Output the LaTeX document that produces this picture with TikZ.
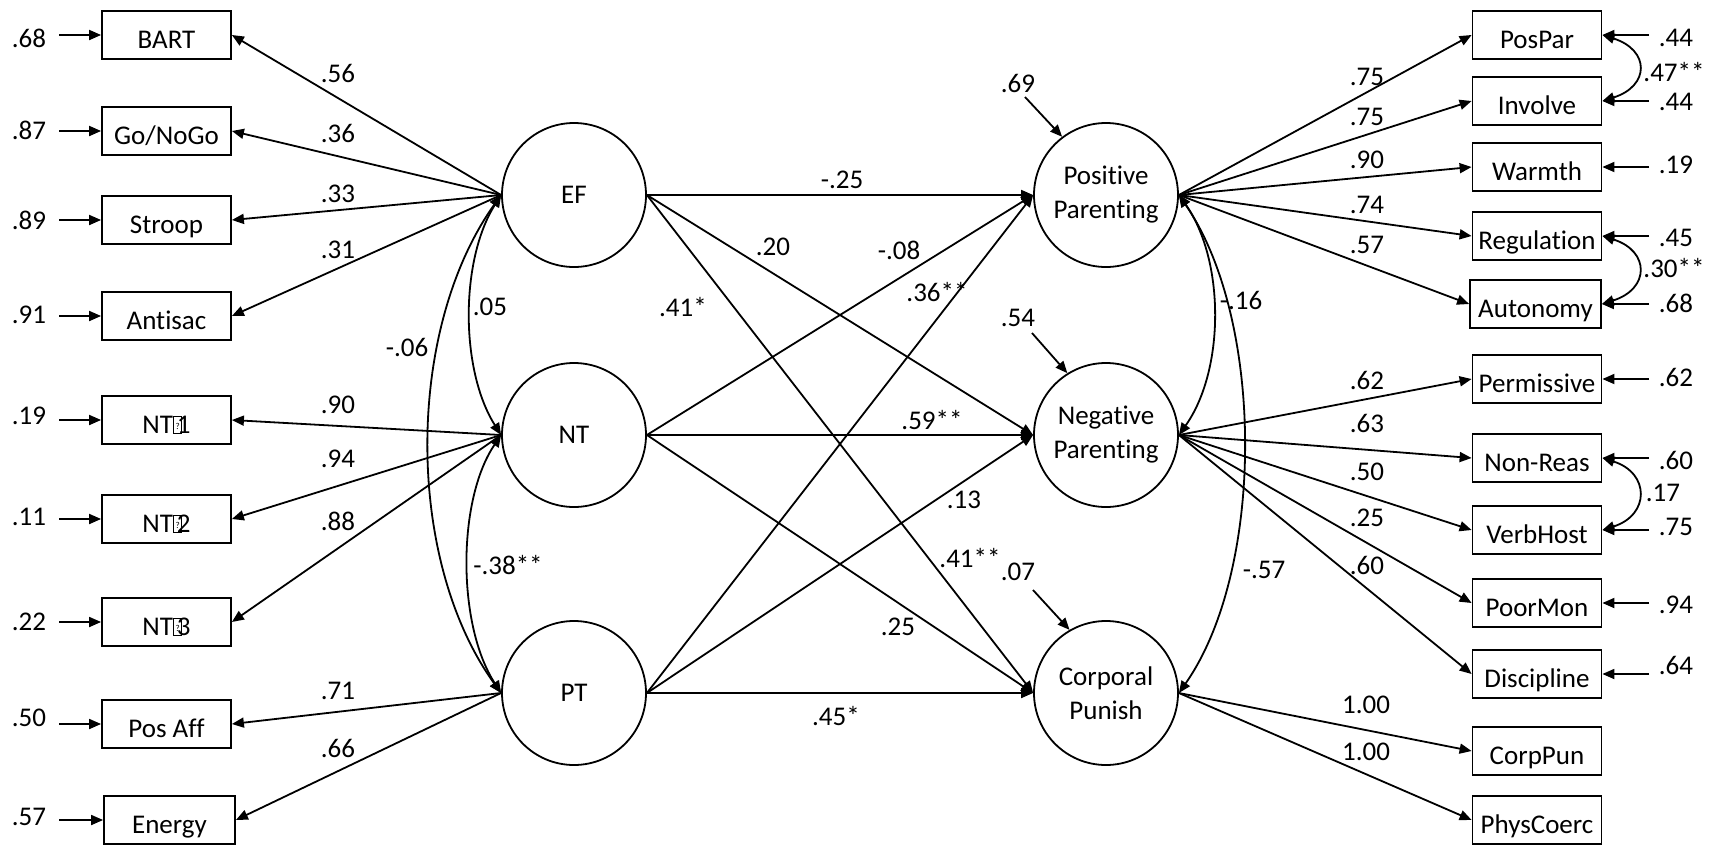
\documentclass[tikz,border=0pt]{standalone}
\usepackage{fontspec}
\setmainfont{Carlito}[Ligatures=NoCommon]
\usetikzlibrary{arrows.meta}
% box standing for an unrenderable character, overprinted by the digit that follows
\newcommand{\missingglyph}{\rlap{\kern0.5pt\setlength{\fboxsep}{0pt}\setlength{\fboxrule}{0.8pt}\fbox{\makebox[7pt]{\rule{0pt}{16pt}\raisebox{4pt}{\fontsize{9}{9}\selectfont ?}}}}\kern4pt}
\begin{document}
\begin{tikzpicture}[x=1pt,y=-1pt,
  every node/.style={font=\fontsize{27}{34}\selectfont},
  obsbox/.style={draw, line width=1.8pt, minimum width=129pt, minimum height=48pt, inner sep=0pt, text height=26pt, text depth=0pt},
  latent/.style={draw, circle, line width=1.8pt, minimum size=144pt, inner sep=0pt, align=center},
  num/.style={inner sep=0pt},
  onehead/.style={line width=1.8pt, -{Triangle[length=12pt,width=10pt]}},
  twohead/.style={line width=1.8pt, {Triangle[length=12pt,width=10pt]}-{Triangle[length=12pt,width=10pt]}},
]
\useasboundingbox (0,0) rectangle (1709,844);

% ---------- latent variables ----------
\node[latent] (ef) at (574,195) {EF};
\node[latent] (nt) at (574,435) {NT};
\node[latent] (pt) at (574,693) {PT};
\node[latent] (pp) at (1106,195) {Positive\\Parenting};
\node[latent] (np) at (1106,435) {Negative\\Parenting};
\node[latent] (cp) at (1106,693) {Corporal\\Punish};

% ---------- left indicators ----------
\node[obsbox] (bart)    at (166.5,35)  {BART};
\node[obsbox] (gonogo)  at (166.5,131) {Go/NoGo};
\node[obsbox] (stroop)  at (166.5,220) {Stroop};
\node[obsbox] (antisac) at (166.5,316) {Antisac};
\node[obsbox] (nta)     at (166.5,420) {NT\missingglyph 1};
\node[obsbox] (ntb)     at (166.5,519) {NT\missingglyph 2};
\node[obsbox] (ntc)     at (166.5,622) {NT\missingglyph 3};
\node[obsbox] (posaff)  at (166.5,724) {Pos Aff};
\node[obsbox, minimum width=131pt] (energy) at (169.5,820) {Energy};

% ---------- right indicators ----------
\node[obsbox] (pospar)   at (1537,35)  {PosPar};
\node[obsbox] (involve)  at (1537,101) {Involve};
\node[obsbox] (warmth)   at (1537,167) {Warmth};
\node[obsbox] (regul)    at (1537,236) {Regulation};
\node[obsbox, minimum width=131pt] (auton) at (1535.5,304) {Autonomy};
\node[obsbox] (permis)   at (1537,379) {Permissive};
\node[obsbox] (nonreas)  at (1537,458) {Non-Reas};
\node[obsbox] (verbhost) at (1537,530) {VerbHost};
\node[obsbox] (poormon)  at (1537,603) {PoorMon};
\node[obsbox] (discip)   at (1537,674) {Discipline};
\node[obsbox] (corppun)  at (1537,751) {CorpPun};
\node[obsbox] (physco)   at (1537,820) {PhysCoerc};

% ---------- measurement paths, left ----------
\draw[onehead] (ef.west) -- (bart.east);
\draw[onehead] (ef.west) -- (gonogo.east);
\draw[onehead] (ef.west) -- (stroop.east);
\draw[onehead] (ef.west) -- (antisac.east);
\draw[onehead] (nt.west) -- (nta.east);
\draw[onehead] (nt.west) -- (ntb.east);
\draw[onehead] (nt.west) -- (ntc.east);
\draw[onehead] (pt.west) -- (posaff.east);
\draw[onehead] (pt.west) -- (energy.east);

\node[num] (l1) at (338,73)  {.56};
\node[num] (l2) at (338,133) {.36};
\node[num] (l3) at (338,194) {.33};
\node[num] (l4) at (338,250) {.31};
\node[num] (l5) at (338,405) {.90};
\node[num] (l6) at (338,459) {.94};
\node[num] (l7) at (338,521) {.88};
\node[num] (l8) at (338,691) {.71};
\node[num] (l9) at (338,748) {.66};

% ---------- residuals, left ----------
\foreach \b/\y/\t/\ly in {bart/35/.68/38, gonogo/131/.87/130, stroop/220/.89/220, antisac/316/.91/315,
                         nta/420/.19/416, ntb/519/.11/517, ntc/622/.22/622, posaff/724/.50/718, energy/820/.57/817}{
  \coordinate (e-\b) at (59,\y);
  \draw[onehead] (e-\b) -- (\b.west);
  \node[num] (et-\b) at (29,\ly) {\t};
}

% ---------- factor correlations, left ----------
\draw[twohead] (ef.west) .. controls (460,260) and (460,370) .. (nt.west);
\draw[twohead] (ef.west) .. controls (405,330) and (405,560) .. (pt.west);
\draw[twohead] (nt.west) .. controls (457,500) and (457,625) .. (pt.west);
\node[num] (c1) at (490,307) {.05};
\node[num] (c2) at (407,347) {-.06};
\node[num] (c3) at (508,565) {-.38**};

% ---------- structural paths ----------
\draw[onehead] (ef.east) -- (pp.west);
\draw[onehead] (ef.east) -- (np.west);
\draw[onehead] (ef.east) -- (cp.west);
\draw[onehead] (nt.east) -- (pp.west);
\draw[onehead] (nt.east) -- (np.west);
\draw[onehead] (nt.east) -- (cp.west);
\draw[onehead] (pt.east) -- (pp.west);
\draw[onehead] (pt.east) -- (np.west);
\draw[onehead] (pt.east) -- (cp.west);

\node[num] (p1) at (842,180) {-.25};
\node[num] (p2) at (773,247) {.20};
\node[num] (p3) at (683,307) {.41*};
\node[num] (p4) at (899,250) {-.08};
\node[num] (p5) at (932,420) {.59**};
\node[num] (p6) at (898,627) {.25};
\node[num] (p7) at (937,292) {.36**};
\node[num] (p8) at (964,500) {.13};
\node[num] (p9) at (970,558) {.41**};
\node[num] (p10) at (836,716) {.45*};

% ---------- disturbances of the outcomes ----------
\coordinate (d-pp) at (1025,97);
\coordinate (d-np) at (1032,333);
\coordinate (d-cp) at (1033,590);
\draw[onehead] (d-pp) -- (pp.127);
\draw[onehead] (d-np) -- (np.122);
\draw[onehead] (d-cp) -- (cp.120);
\node[num] (dt-pp) at (1018,83)  {.69};
\node[num] (dt-np) at (1018,318) {.54};
\node[num] (dt-cp) at (1018,572) {.07};

% ---------- outcome correlations ----------
\draw[twohead] (pp.east) .. controls (1225,260) and (1225,370) .. (np.east);
\draw[twohead] (pp.east) .. controls (1265,320) and (1265,570) .. (cp.east);
\node[num] (c4) at (1241,300) {-.16};
\node[num] (c5) at (1264,570) {-.57};

% ---------- measurement paths, right ----------
\draw[onehead] (pp.east) -- (pospar.west);
\draw[onehead] (pp.east) -- (involve.west);
\draw[onehead] (pp.east) -- (warmth.west);
\draw[onehead] (pp.east) -- (regul.west);
\draw[onehead] (pp.east) -- (auton.west);
\draw[onehead] (np.east) -- (permis.west);
\draw[onehead] (np.east) -- (nonreas.west);
\draw[onehead] (np.east) -- (verbhost.west);
\draw[onehead] (np.east) -- (poormon.west);
\draw[onehead] (np.east) -- (discip.west);
\draw[onehead] (cp.east) -- (corppun.west);
\draw[onehead] (cp.east) -- (physco.west);

\node[num] (m1)  at (1367,77)  {.75};
\node[num] (m2)  at (1367,117) {.75};
\node[num] (m3)  at (1367,160) {.90};
\node[num] (m4)  at (1367,205) {.74};
\node[num] (m5)  at (1367,245) {.57};
\node[num] (m6)  at (1367,380) {.62};
\node[num] (m7)  at (1367,423) {.63};
\node[num] (m8)  at (1367,472) {.50};
\node[num] (m9)  at (1367,518) {.25};
\node[num] (m10) at (1367,565) {.60};
\node[num] (m11) at (1366,705) {1.00};
\node[num] (m12) at (1366,752) {1.00};

% ---------- residuals, right ----------
\foreach \b/\y/\t/\ly in {pospar/35/.44/38, involve/101/.44/102, warmth/167/.19/165, regul/236/.45/238,
                         auton/304/.68/303, permis/379/.62/377, nonreas/458/.60/460, verbhost/530/.75/527,
                         poormon/603/.94/605, discip/674/.64/665}{
  \coordinate (u-\b) at (1649,\y);
  \draw[onehead] (u-\b) -- (\b.east);
  \node[num] (ut-\b) at (1676,\ly) {\t};
}

% ---------- correlated residuals ----------
\draw[twohead] (pospar.east) .. controls (1650,50) and (1650,86) .. (involve.east);
\draw[twohead] (regul.east) .. controls (1650,251) and (1650,289) .. (auton.east);
\draw[twohead] (nonreas.east) .. controls (1650,473) and (1650,515) .. (verbhost.east);
\node[num] (r1) at (1674,72)  {.47**};
\node[num] (r2) at (1674,268) {.30**};
\node[num] (r3) at (1663,493) {.17};
\end{tikzpicture}
\end{document}
